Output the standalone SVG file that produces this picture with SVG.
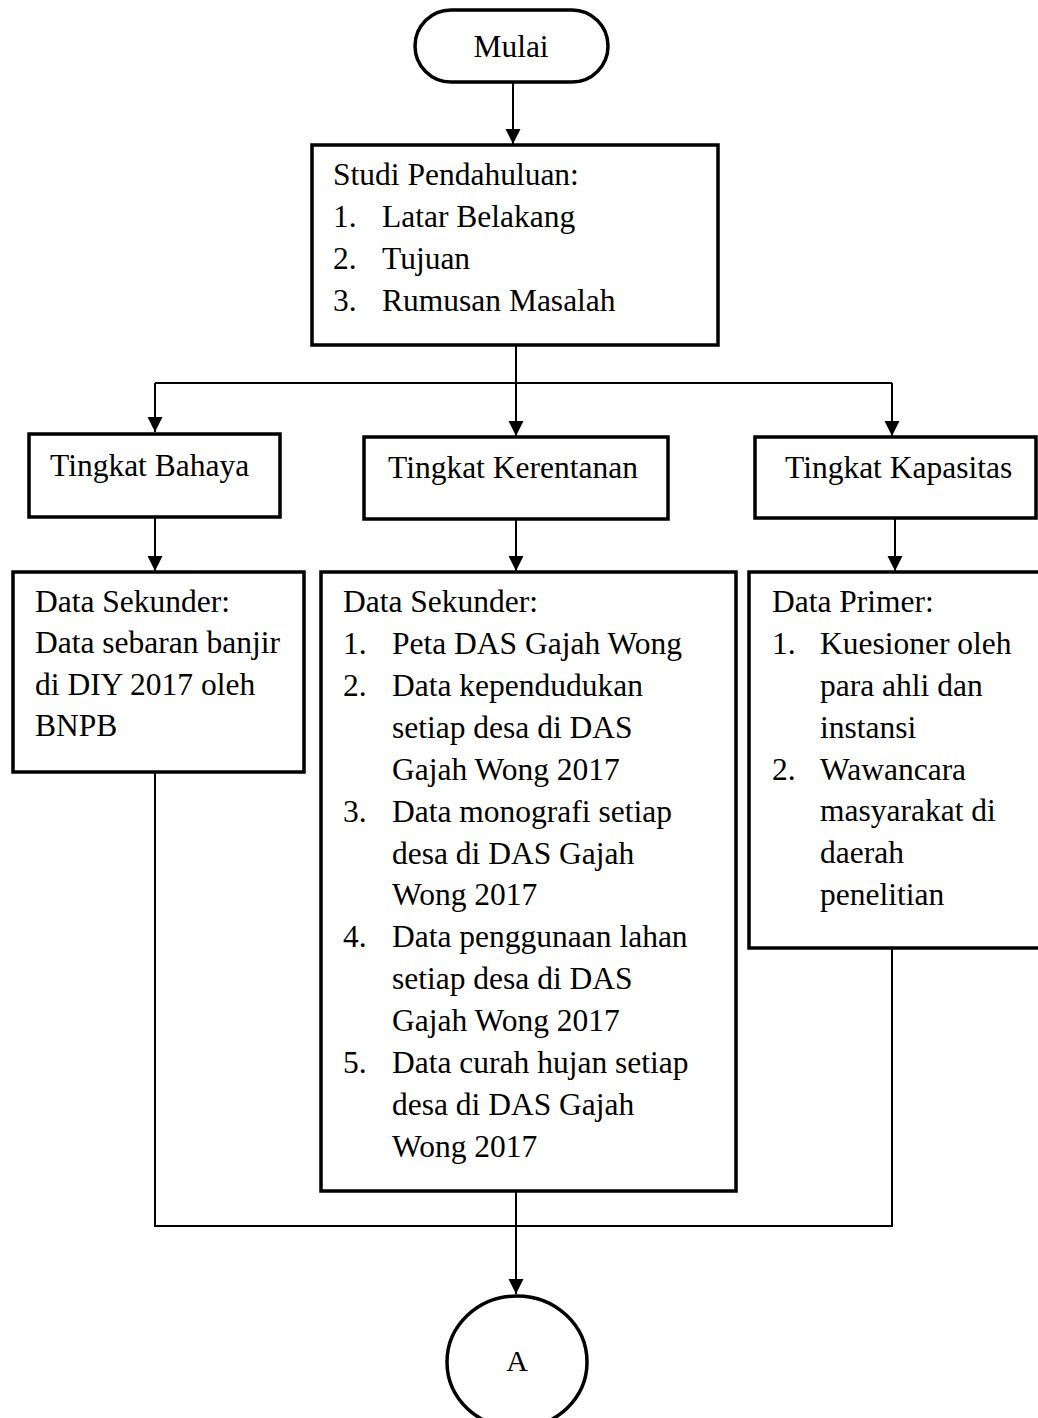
<svg xmlns="http://www.w3.org/2000/svg" width="1038" height="1418" viewBox="0 0 1038 1418">
<style>
.box{fill:#fff;stroke:#000;stroke-width:3.5}
.conn{fill:none;stroke:#000;stroke-width:2}
text{font-family:"Liberation Serif","Times New Roman",serif;font-size:31.5px;fill:#000}
.c{text-anchor:middle}
</style>
<defs>
<marker id="arr" markerWidth="16" markerHeight="16" refX="15" refY="7.5" orient="auto" markerUnits="userSpaceOnUse">
<path d="M0,0 L15,7.5 L0,15 z" fill="#000"/>
</marker>
</defs>
<rect width="1038" height="1418" fill="#fff"/>
<g id="connectors">
<line class="conn" x1="513" y1="82" x2="513" y2="144" marker-end="url(#arr)"/>
<path class="conn" d="M516,345 V383"/>
<path class="conn" d="M155,383 H892"/>
<line class="conn" x1="155" y1="383" x2="155" y2="432" marker-end="url(#arr)"/>
<line class="conn" x1="516" y1="383" x2="516" y2="436" marker-end="url(#arr)"/>
<line class="conn" x1="892" y1="383" x2="892" y2="436" marker-end="url(#arr)"/>
<line class="conn" x1="155" y1="517" x2="155" y2="571" marker-end="url(#arr)"/>
<line class="conn" x1="516" y1="519" x2="516" y2="571" marker-end="url(#arr)"/>
<line class="conn" x1="895" y1="518" x2="895" y2="571" marker-end="url(#arr)"/>
<path class="conn" d="M155,772 V1226 H892 V948"/>
<line class="conn" x1="516" y1="1191" x2="516" y2="1294" marker-end="url(#arr)"/>
</g>
<g id="mulai">
<rect class="box" x="415" y="10" width="193" height="72" rx="36" ry="36"/>
<text class="c" x="511" y="57">Mulai</text>
</g>
<g id="studi">
<rect class="box" x="312" y="145" width="406" height="200"/>
<text x="333" y="185">Studi Pendahuluan:</text>
<text x="333" y="227">1.</text><text x="382" y="227">Latar Belakang</text>
<text x="333" y="269">2.</text><text x="382" y="269">Tujuan</text>
<text x="333" y="311">3.</text><text x="382" y="311">Rumusan Masalah</text>
</g>
<g id="bahaya">
<rect class="box" x="29" y="434" width="251" height="83"/>
<text x="50" y="476">Tingkat Bahaya</text>
</g>
<g id="kerentanan">
<rect class="box" x="364" y="437" width="304" height="82"/>
<text x="388" y="478">Tingkat Kerentanan</text>
</g>
<g id="kapasitas">
<rect class="box" x="755" y="437" width="281" height="81"/>
<text x="785" y="478">Tingkat Kapasitas</text>
</g>
<g id="data-bahaya">
<rect class="box" x="13" y="572" width="291" height="200"/>
<text x="35" y="612">Data Sekunder:</text>
<text x="35" y="653">Data sebaran banjir</text>
<text x="35" y="695">di DIY 2017 oleh</text>
<text x="35" y="736">BNPB</text>
</g>
<g id="data-kerentanan">
<rect class="box" x="321" y="572" width="415" height="619"/>
<text x="343" y="612">Data Sekunder:</text>
<text x="343" y="654">1.</text><text x="392" y="654">Peta DAS Gajah Wong</text>
<text x="343" y="696">2.</text><text x="392" y="696">Data kependudukan</text>
<text x="392" y="738">setiap desa di DAS</text>
<text x="392" y="780">Gajah Wong 2017</text>
<text x="343" y="822">3.</text><text x="392" y="822">Data monografi setiap</text>
<text x="392" y="864">desa di DAS Gajah</text>
<text x="392" y="905">Wong 2017</text>
<text x="343" y="947">4.</text><text x="392" y="947">Data penggunaan lahan</text>
<text x="392" y="989">setiap desa di DAS</text>
<text x="392" y="1031">Gajah Wong 2017</text>
<text x="343" y="1073">5.</text><text x="392" y="1073">Data curah hujan setiap</text>
<text x="392" y="1115">desa di DAS Gajah</text>
<text x="392" y="1157">Wong 2017</text>
</g>
<g id="data-kapasitas">
<rect class="box" x="749" y="572" width="300" height="376"/>
<text x="772" y="612">Data Primer:</text>
<text x="772" y="654">1.</text><text x="820" y="654">Kuesioner oleh</text>
<text x="820" y="696">para ahli dan</text>
<text x="820" y="738">instansi</text>
<text x="772" y="780">2.</text><text x="820" y="780">Wawancara</text>
<text x="820" y="821">masyarakat di</text>
<text x="820" y="863">daerah</text>
<text x="820" y="905">penelitian</text>
</g>
<g id="konektor-a">
<ellipse class="box" cx="517" cy="1362" rx="70" ry="66"/>
<text class="c" x="517" y="1371" style="font-size:30px">A</text>
</g>
</svg>
